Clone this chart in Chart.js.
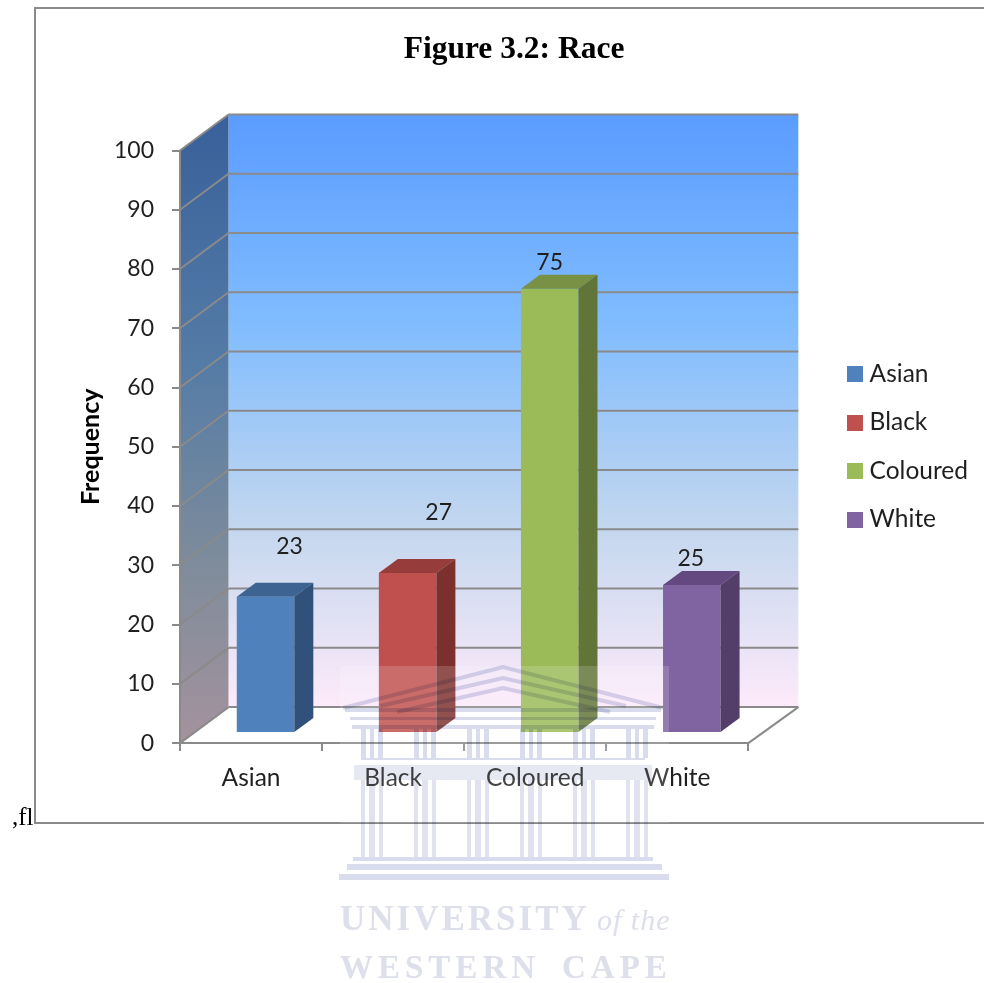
<!DOCTYPE html>
<html>
<head>
<meta charset="utf-8">
<title>Figure 3.2: Race</title>
<script src="https://cdn.jsdelivr.net/npm/chart.js@4"></script>
<style>
    html, body { margin: 0; padding: 0; background: #ffffff; }
    canvas { display: block; }
</style>
</head>
<body>
<canvas id="raceChart" width="984" height="983"></canvas>
<script>
/* ---------------- Data ---------------- */

const categories = ["Asian", "Black", "Coloured", "White"];
const frequencies = [23, 27, 75, 25];

const frontColors = ["#4f81bd", "#c0504d", "#9bbb59", "#8064a2"];
const topColors = ["#3c6392", "#963d3b", "#789145", "#63497f"];
const sideColors = ["#31507a", "#7c302e", "#627538", "#523e69"];

// value labels were moved by hand in the original chart
const labelShiftX = [24, 31, 0, -1];
const labelShiftY = [-50, -61, -26, -26];

/* ---------------- 3D Box ---------------- */

const wallDepthX = 48.5;
const wallDepthY = 36;
const barShiftX = 14.5;
const barShiftY = 10;
const barDepthX = 19;
const barDepthY = 14;
const lineColor = "#8a8a8a";

function fillShape(ctx, color, points) {
    ctx.fillStyle = color;
    ctx.beginPath();
    points.forEach((p, i) => i ? ctx.lineTo(p[0], p[1]) : ctx.moveTo(p[0], p[1]));
    ctx.closePath();
    ctx.fill();
}

function strokeLine(ctx, x1, y1, x2, y2) {
    ctx.beginPath();
    ctx.moveTo(x1, y1);
    ctx.lineTo(x2, y2);
    ctx.stroke();
}

const boxPlugin = {
    id: "box3d",

    beforeDraw(chart) {
        const ctx = chart.ctx;
        const area = chart.chartArea;
        const yScale = chart.scales.y;
        const backLeft = area.left + wallDepthX;
        const backRight = area.right + wallDepthX + 1.5;
        const backTop = area.top - wallDepthY;
        const backBottom = area.bottom - wallDepthY;

        ctx.save();

        ctx.fillStyle = "#ffffff";
        ctx.fillRect(0, 0, chart.width, chart.height);

        // frame of the pasted picture, it runs off the right edge
        ctx.strokeStyle = lineColor;
        ctx.lineWidth = 2;
        ctx.strokeRect(35, 8, 1000, 815);

        ctx.fillStyle = "#000000";
        ctx.font = "25px 'Liberation Serif'";
        ctx.textAlign = "left";
        ctx.textBaseline = "alphabetic";
        ctx.fillText(",fl", 12, 825);

        const backFill = ctx.createLinearGradient(0, backTop, 0, backBottom);
        backFill.addColorStop(0, "#5a9cff");
        backFill.addColorStop(0.35, "#80bcff");
        backFill.addColorStop(0.7, "#c4d7ee");
        backFill.addColorStop(1, "#fdeafa");
        ctx.fillStyle = backFill;
        ctx.fillRect(backLeft, backTop, backRight - backLeft, backBottom - backTop);

        const sideFill = ctx.createLinearGradient(0, backTop, 0, area.bottom);
        sideFill.addColorStop(0, "#38609a");
        sideFill.addColorStop(0.4, "#557ca6");
        sideFill.addColorStop(0.72, "#7f8c9b");
        sideFill.addColorStop(1, "#a5929e");
        fillShape(ctx, sideFill, [
            [area.left, area.top],
            [backLeft, backTop],
            [backLeft, backBottom],
            [area.left, area.bottom]
        ]);

        ctx.strokeStyle = lineColor;
        ctx.lineWidth = 2;

        yScale.ticks.forEach(tick => {
            const y = yScale.getPixelForValue(tick.value);
            strokeLine(ctx, area.left, y, backLeft, y - wallDepthY);
            strokeLine(ctx, backLeft, y - wallDepthY, backRight, y - wallDepthY);
        });

        strokeLine(ctx, area.right, area.bottom, backRight, backBottom);

        ctx.restore();
    },

    beforeDatasetsDraw(chart) {
        chart.ctx.save();
        chart.ctx.translate(barShiftX, -barShiftY);
    },

    afterDatasetsDraw(chart) {
        const ctx = chart.ctx;

        chart.data.datasets.forEach((dataset, i) => {
            const bar = chart.getDatasetMeta(i).data[i];
            const props = bar.getProps(["x", "y", "base", "width"], true);
            const left = props.x - props.width / 2;
            const right = props.x + props.width / 2;

            fillShape(ctx, topColors[i], [
                [left, props.y],
                [left + barDepthX, props.y - barDepthY],
                [right + barDepthX, props.y - barDepthY],
                [right, props.y]
            ]);

            fillShape(ctx, sideColors[i], [
                [right, props.y],
                [right + barDepthX, props.y - barDepthY],
                [right + barDepthX, props.base - barDepthY],
                [right, props.base]
            ]);

            ctx.fillStyle = "#1f1f1f";
            ctx.font = "23px Lato";
            ctx.textAlign = "center";
            ctx.textBaseline = "middle";
            ctx.fillText(frequencies[i], props.x + labelShiftX[i], props.y + labelShiftY[i]);
        });

        ctx.restore();
    }
};

/* ---------------- Watermark ---------------- */

function drawWatermark(ctx) {
    const tint = "#d9dcec";
    const paleTint = "#e6e8f2";

    ctx.save();

    // the scan lightens whatever lies under the crest
    ctx.fillStyle = "rgba(255,255,255,0.16)";
    ctx.fillRect(340, 666, 329, 157);

    ctx.globalCompositeOperation = "multiply";
    ctx.fillStyle = tint;
    ctx.strokeStyle = tint;

    // pediment
    ctx.lineWidth = 4;
    [[343, 708, 503, 667, 663, 708], [380, 706, 503, 678, 626, 706], [397, 712, 503, 688, 610, 712]].forEach(p => {
        ctx.beginPath();
        ctx.moveTo(p[0], p[1]);
        ctx.lineTo(p[2], p[3]);
        ctx.lineTo(p[4], p[5]);
        ctx.stroke();
    });

    // beams
    ctx.fillRect(345, 708, 316, 4);
    ctx.fillRect(350, 717, 306, 3);
    ctx.fillRect(352, 725, 302, 4);
    ctx.fillRect(361, 758, 284, 2);
    ctx.fillStyle = paleTint;
    ctx.fillRect(354, 765, 298, 15);
    ctx.fillStyle = tint;

    // columns
    [361, 414, 467, 520, 573, 626].forEach(x => {
        ctx.fillRect(x, 729, 5, 29);
        ctx.fillRect(x + 9, 729, 4, 29);
        ctx.fillRect(x + 17, 729, 5, 29);
        ctx.fillStyle = "#e0e3ef";
        ctx.fillRect(x, 780, 4, 77);
        ctx.fillRect(x + 8, 780, 6, 77);
        ctx.fillRect(x + 18, 780, 4, 77);
        ctx.fillStyle = tint;
    });

    // steps
    ctx.fillRect(353, 857, 300, 4);
    ctx.fillRect(347, 864, 315, 6);
    ctx.fillRect(339, 874, 330, 6);

    // name
    ctx.fillStyle = "#dde0ea";
    ctx.textBaseline = "alphabetic";
    ctx.textAlign = "left";
    ctx.font = "bold 35px 'Liberation Serif'";
    ctx.letterSpacing = "3px";
    ctx.fillText("UNIVERSITY", 340, 930);
    ctx.letterSpacing = "1px";
    ctx.font = "italic 30px 'Liberation Serif'";
    ctx.fillText("of the", 597, 930);
    ctx.font = "bold 33px 'Liberation Serif'";
    ctx.letterSpacing = "5px";
    ctx.fillText("WESTERN", 340, 978);
    ctx.fillText("CAPE", 562, 978);

    ctx.restore();
}

const watermarkPlugin = {
    id: "watermark",
    afterDraw(chart) {
        drawWatermark(chart.ctx);
    }
};

/* ---------------- Legend ---------------- */

function legendSwatch(color) {
    const swatch = document.createElement("canvas");
    swatch.width = 16;
    swatch.height = 16;
    const ctx = swatch.getContext("2d");
    ctx.fillStyle = color;
    ctx.fillRect(0, 0, 16, 16);
    return swatch;
}

const legendSwatches = frontColors.map(legendSwatch);

/* ---------------- Chart ---------------- */

new Chart(document.getElementById("raceChart"), {
    type: "bar",
    plugins: [boxPlugin, watermarkPlugin],
    data: {
        labels: categories,
        datasets: categories.map((name, i) => ({
            label: name,
            data: categories.map((_, j) => (i === j ? frequencies[i] : null)),
            backgroundColor: frontColors[i],
            pointStyle: legendSwatches[i],
            barPercentage: 0.405,
            categoryPercentage: 1
        }))
    },
    options: {
        responsive: false,
        animation: false,
        layout: {
            padding: { left: 50, right: 6, top: 0, bottom: 177.5 }
        },
        plugins: {
            tooltip: { enabled: false },
            title: {
                display: true,
                text: "Figure 3.2: Race",
                color: "#000000",
                font: { family: "Liberation Serif", size: 31.5, weight: "bold" },
                padding: { top: 30.5, bottom: 82.2 }
            },
            legend: {
                position: "right",
                fullSize: false,
                labels: {
                    color: "#1f1f1f",
                    font: { family: "Lato", size: 24.5 },
                    usePointStyle: true,
                    pointStyleWidth: 4,
                    boxHeight: 16,
                    padding: 24
                }
            }
        },
        scales: {
            x: {
                stacked: true,
                grid: { drawOnChartArea: false, color: lineColor, lineWidth: 2, tickLength: 8 },
                border: { color: lineColor, width: 2 },
                ticks: { color: "#1f1f1f", font: { family: "Lato", size: 24.5 }, padding: 12.5 }
            },
            y: {
                stacked: true,
                min: 0,
                max: 100,
                afterFit(scale) {
                    scale.width = 130;
                },
                grid: { drawOnChartArea: false, color: lineColor, lineWidth: 2, tickLength: 8 },
                border: { color: lineColor, width: 2 },
                ticks: { stepSize: 10, color: "#1f1f1f", font: { family: "Lato", size: 23 }, padding: 18 },
                title: {
                    display: true,
                    text: "Frequency",
                    color: "#000000",
                    font: { family: "Lato", size: 25, weight: "bold" },
                    padding: { top: 26, bottom: 0 }
                }
            },
            // empty axis that holds the gap between the plot and the legend
            legendGap: {
                position: "right",
                grid: { display: false },
                border: { display: false },
                ticks: { display: false },
                afterFit(scale) {
                    scale.width = 81;
                }
            }
        }
    }
});
</script>
</body>
</html>
